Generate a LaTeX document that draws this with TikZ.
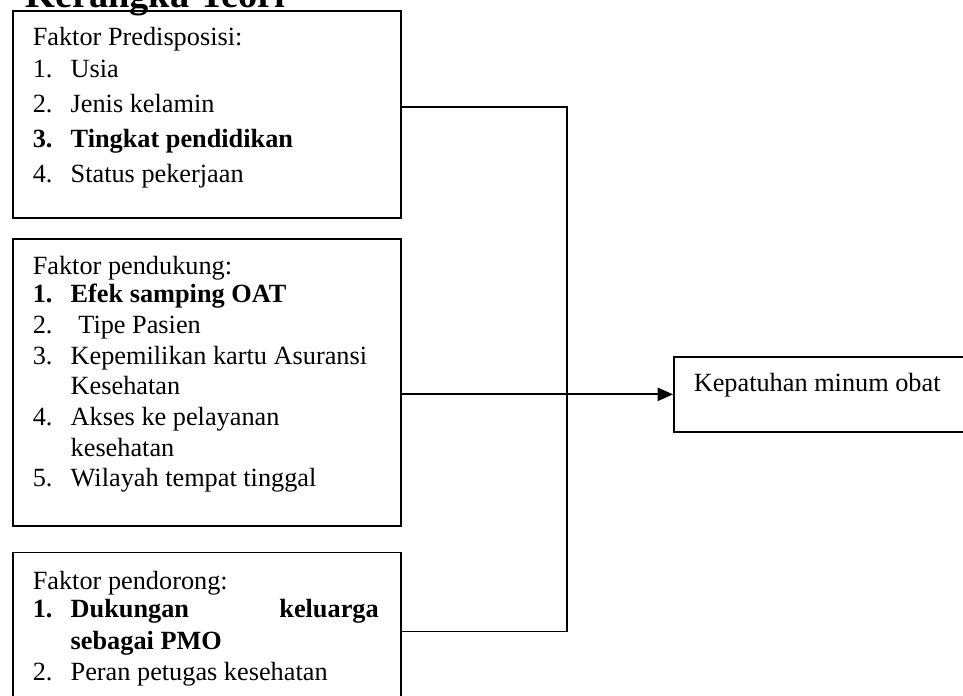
\documentclass[tikz,border=0pt]{standalone}
\usepackage{fontspec}
\setmainfont{Liberation Serif}
\usetikzlibrary{arrows.meta, positioning, calc}

\newcommand{\butir}[2]{\makebox[17.3pt][l]{#1}#2}
\newcommand{\lanjut}{\hspace*{17.3pt}}

\begin{document}
\begin{tikzpicture}
  [
  x=0.4565pt, y=-0.4565pt,
  % kotak faktor
  kotak/.style = {rectangle,
    draw, thick,
    anchor=north west,
    inner xsep=9.1pt, inner ysep=0pt,
    font=\fontsize{12pt}{14pt}\selectfont},
  % garis
  garis/.style = {draw, thick},
  panah/.style = {draw, thick, -{Triangle[length=7pt,width=6pt]}},
  ]

  \useasboundingbox (0,0) rectangle (963,695);
  \clip (0,0) rectangle (963,695);

  % judul
  \node [anchor=base west, inner sep=0pt,
    font=\fontsize{17.5pt}{20pt}\selectfont\bfseries] (judul) at (25,7) {Kerangka Teori};

  % nodes
  \node [kotak] (predis) at (12,10) {\parbox[t][94.5pt][t]{158.9pt}{%
    \fontsize{12pt}{16pt}\selectfont
    \rule{0pt}{16pt}Faktor Predisposisi:\\[-1.5pt]
    \butir{1.}{Usia}\\
    \butir{2.}{Jenis kelamin}\\
    \textbf{\butir{3.}{Tingkat pendidikan}}\\
    \butir{4.}{Status pekerjaan}}};
  \node [kotak, below=8.7pt of predis.south west, anchor=north west] (dukung) {\parbox[t][131pt][t]{158.9pt}{%
    \fontsize{12pt}{14pt}\selectfont
    \rule{0pt}{16.4pt}Faktor pendukung:\\[-1.2pt]
    \textbf{\butir{1.}{Efek samping OAT}}\\
    \butir{2.}{\hspace{3.5pt}Tipe Pasien}\\
    \butir{3.}{Kepemilikan kartu Asuransi}\\
    \lanjut Kesehatan\\
    \butir{4.}{Akses ke pelayanan}\\
    \lanjut kesehatan\\
    \butir{5.}{Wilayah tempat tinggal}}};
  \node [kotak, below=11.4pt of dukung.south west, anchor=north west] (dorong) {\parbox[t][72.1pt][t]{158.9pt}{%
    \fontsize{12pt}{14.6pt}\selectfont
    \rule{0pt}{16.9pt}Faktor pendorong:\\[-2pt]
    \textbf{\butir{1.}{\makebox[140.6pt][s]{Dukungan keluarga}}}\\
    \lanjut\textbf{sebagai PMO}\\
    \butir{2.}{Peran petugas kesehatan}}};
  \node [kotak] (patuh) at (673,356) {\parbox[t][34.2pt][t]{117.4pt}{%
    \rule{0pt}{16pt}Kepatuhan minum obat}};

  \coordinate (siku) at (567,393);

  % path
  \path [garis] ([yshift=3.4pt]predis.east) -| (siku) |- (dorong.east);
  \path [panah] (dukung.east |- patuh.west) -- (patuh.west);

\end{tikzpicture}
\end{document}
